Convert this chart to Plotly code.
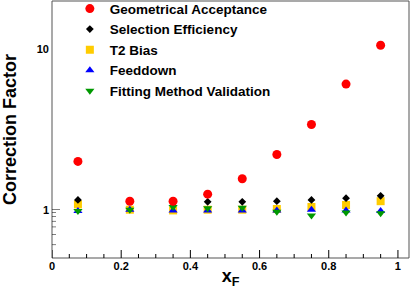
import math
import plotly.graph_objects as go

xf = [0.075, 0.225, 0.35, 0.45, 0.55, 0.65, 0.75, 0.85, 0.95]
geo_acc = [2.0, 1.13, 1.13, 1.25, 1.56, 2.21, 3.40, 6.07, 10.6]
sel_eff = [1.15, 1.13, 1.12, 1.12, 1.12, 1.13, 1.15, 1.18, 1.22]
sel_err = [0.03, 0.03, 0.03, 0.03, 0.03, 0.03, 0.03, 0.03, 0.03]
t2_bias = [1.08, 1.0, 0.99, 1.0, 1.0, 1.01, 1.04, 1.07, 1.13]
feeddown = [0.98, 1.0, 0.99, 0.99, 0.99, 0.99, 1.0, 0.99, 0.98]
fit_valid = [0.98, 1.0, 1.04, 1.02, 1.03, 0.97, 0.92, 0.96, 0.95]

names = ["Geometrical Acceptance", "Selection Efficiency", "T2 Bias",
         "Feeddown", "Fitting Method Validation"]
x_major = [0, 0.2, 0.4, 0.6, 0.8, 1]
x_major_text = ["0", "0.2", "0.4", "0.6", "0.8", "1"]
x_minor = [0.05, 0.1, 0.15, 0.25, 0.3, 0.35, 0.45, 0.5, 0.55,
           0.65, 0.7, 0.75, 0.85, 0.9, 0.95]
y_major = [1, 10]
y_major_text = ["1", "10"]
y_minor = [0.6, 0.7, 0.8, 0.9, 2, 3, 4, 5, 6, 7, 8, 9]

def b(s):
    return "<b>" + s + "</b>"

fig = go.Figure()
fig.add_trace(go.Scatter(x=xf, y=t2_bias, mode="markers", name=b(names[2]), legendrank=3,
                         marker=dict(symbol="square", size=8, color="#ffcc00")))
fig.add_trace(go.Scatter(x=xf, y=feeddown, mode="markers", name=b(names[3]), legendrank=4,
                         marker=dict(symbol="triangle-up", size=8, color="#0000ff")))
fig.add_trace(go.Scatter(x=xf, y=fit_valid, mode="markers", name=b(names[4]), legendrank=5,
                         marker=dict(symbol="triangle-down", size=8, color="#009900")))
fig.add_trace(go.Scatter(x=xf, y=sel_eff, mode="markers", name=b(names[1]), legendrank=2,
                         error_y=dict(type="data", array=sel_err, color="black",
                                      thickness=1, width=0),
                         marker=dict(symbol="diamond", size=6, color="black")))
fig.add_trace(go.Scatter(x=xf, y=geo_acc, mode="markers", name=b(names[0]), legendrank=1,
                         marker=dict(symbol="circle", size=9, color="#ff0000")))

fam = "Liberation Sans"
X_RANGE = [0, 1.032]
Y_RANGE = [-0.301, 1.301]

# frame and tick marks as thin filled rectangles (axis decorations)
shapes = []
FRAME = "#555555"
TICK = "black"
def frect(**kw):
    d = dict(type="rect", fillcolor=kw.pop("color"), line=dict(width=0), layer="above")
    d.update(kw)
    return d

# frame edges
shapes.append(frect(color=FRAME, xref="paper", xsizemode="pixel", xanchor=0, x0=-0.5, x1=0.5,
                    yref="paper", y0=0, y1=1))
shapes.append(frect(color=FRAME, xref="paper", xsizemode="pixel", xanchor=1, x0=-0.5, x1=0.5,
                    yref="paper", y0=0, y1=1))
shapes.append(frect(color=FRAME, yref="paper", ysizemode="pixel", yanchor=0, y0=-0.5, y1=0.5,
                    xref="paper", x0=0, x1=1))
shapes.append(frect(color=FRAME, yref="paper", ysizemode="pixel", yanchor=1, y0=-0.5, y1=0.5,
                    xref="paper", x0=0, x1=1))
# x ticks (inside, from bottom)
for v in x_major:
    shapes.append(frect(color=TICK, xref="x", xsizemode="pixel", xanchor=v, x0=-0.5, x1=0.5,
                        yref="paper", ysizemode="pixel", yanchor=0, y0=0, y1=8))
for v in x_minor:
    shapes.append(frect(color=TICK, xref="x", xsizemode="pixel", xanchor=v, x0=-0.5, x1=0.5,
                        yref="paper", ysizemode="pixel", yanchor=0, y0=0, y1=4))
# y ticks (inside, from left)
for v in y_major:
    shapes.append(frect(color=TICK, yref="y", ysizemode="pixel", yanchor=math.log10(v),
                        y0=-0.5, y1=0.5,
                        xref="paper", xsizemode="pixel", xanchor=0, x0=0, x1=8))
for v in y_minor:
    shapes.append(frect(color=TICK, yref="y", ysizemode="pixel", yanchor=math.log10(v),
                        y0=-0.5, y1=0.5,
                        xref="paper", xsizemode="pixel", xanchor=0, x0=0, x1=4))

fig.update_layout(
    width=411, height=289,
    margin=dict(l=52, r=2, t=1, b=31, autoexpand=False),
    paper_bgcolor="white", plot_bgcolor="white",
    showlegend=True,
    legend=dict(x=0.05, y=1.03, xanchor="left", yanchor="top",
                bgcolor="rgba(0,0,0,0)",
                font=dict(size=13.5, family=fam, color="black"), itemwidth=30,
                tracegroupgap=0),
    font=dict(family=fam, color="black"),
    xaxis=dict(
        range=X_RANGE, showgrid=False, zeroline=False, automargin=False,
        showline=False, ticks="",
        tickvals=x_major, ticktext=[b(t) for t in x_major_text],
        tickfont=dict(size=11, family=fam, color="black"),
        title=dict(text="<b>x<sub>F</sub></b>", font=dict(size=18, family=fam, color="black"),
                   standoff=0),
    ),
    yaxis=dict(
        type="log", range=Y_RANGE, showgrid=False, zeroline=False,
        automargin=False, showline=False, ticks="", ticklabelstandoff=2,
        tickvals=y_major, ticktext=[b(t) for t in y_major_text],
        tickfont=dict(size=11, family=fam, color="black"),
        title=dict(text="<b>Correction Factor</b>", font=dict(size=18, family=fam, color="black"),
                   standoff=16),
    ),
    shapes=shapes,
)

fig.write_html("out.html", config={"displayModeBar": False},
               post_script="document.body.style.margin='0';")
